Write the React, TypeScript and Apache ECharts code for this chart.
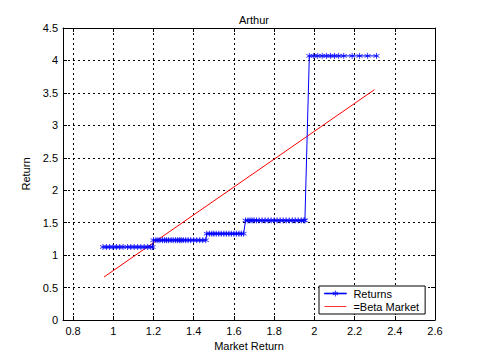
import React, { useEffect, useRef } from "react";
import * as echarts from "echarts";

const title = "Arthur";
const xName = "Market Return";
const yName = "Return";
const xTicks = [0.8, 1.0, 1.2, 1.4, 1.6, 1.8, 2.0, 2.2, 2.4, 2.6];

const seg1X = [0.949, 0.966, 0.982, 0.999, 1.016, 1.032, 1.049, 1.071, 1.087, 1.104, 1.121, 1.137, 1.154, 1.171, 1.187, 1.195];
const seg1Y = 1.125;
const seg2X = [1.2, 1.212, 1.222, 1.232, 1.245, 1.255, 1.265, 1.275, 1.288, 1.298, 1.31, 1.32, 1.33, 1.338, 1.348, 1.36, 1.372, 1.385, 1.4, 1.415, 1.43, 1.445, 1.46];
const seg2Y = 1.23;
const seg3X = [1.465, 1.478, 1.49, 1.5, 1.512, 1.525, 1.537, 1.55, 1.562, 1.575, 1.587, 1.6, 1.612, 1.625, 1.637, 1.648];
const seg3Y = 1.33;
const seg4X = [1.658, 1.67, 1.68, 1.69, 1.7, 1.712, 1.725, 1.74, 1.755, 1.77, 1.785, 1.8, 1.815, 1.83, 1.845, 1.86, 1.875, 1.89, 1.905, 1.92, 1.935, 1.948, 1.953];
const seg4Y = 1.535;
const seg5X = [1.975, 1.997, 2.017, 2.039, 2.06, 2.08, 2.1, 2.121, 2.146, 2.188, 2.225, 2.265, 2.309];
const seg5Y = 4.07;

const betaX = [0.954, 2.299];
const betaY = [0.663, 3.55];

const star = "path://M0,-5L0,5M-4.33,-2.5L4.33,2.5M-4.33,2.5L4.33,-2.5";
const starLegend = "path://M0,0L0,0M0,10L0,10M0,4.6L22,4.6L22,5.4L0,5.4ZM11,2L11,8M8.4,3.5L13.6,6.5M8.4,6.5L13.6,3.5";
const lineLegend = "path://M0,0L0,0M0,10L0,10M0,4.6L22,4.6L22,5.4L0,5.4Z";

export default function App() {
  const ref = useRef<HTMLDivElement>(null);
  useEffect(() => {
    if (!ref.current) return;
    const chart = echarts.init(ref.current, null, { renderer: "svg" });
    const segs: [number[], number][] = [
      [seg1X, seg1Y],
      [seg2X, seg2Y],
      [seg3X, seg3Y],
      [seg4X, seg4Y],
      [seg5X, seg5Y],
    ];
    const returns: number[][] = [];
    segs.forEach(([xs, y]) => xs.forEach((x) => returns.push([x, y])));
    const beta = betaX.map((x, i) => [x, betaY[i]]);
    const font = "Liberation Sans, Arial, sans-serif";
    const gridLine = { show: true, lineStyle: { color: "#000", type: [2, 3] as any, width: 1 } };
    const tickIn = { show: true, inside: true, length: 4, lineStyle: { color: "#000" } };
    chart.setOption({
      animation: false,
      backgroundColor: "#fff",
      title: {
        text: title,
        left: 249,
        textAlign: "center",
        top: 9,
        textStyle: { fontFamily: font, fontSize: 11, fontWeight: "normal", color: "#000" },
      },
      grid: { left: 63, top: 28, right: 46, bottom: 40 },
      xAxis: [
        {
          type: "value",
          min: 0.75,
          max: 2.6,
          name: xName,
          nameLocation: "middle",
          nameGap: 20,
          nameTextStyle: { fontFamily: font, fontSize: 11, color: "#000" },
          axisLine: { show: true, onZero: false, lineStyle: { color: "#000" } },
          axisTick: { ...tickIn, customValues: xTicks },
          axisLabel: {
            customValues: xTicks,
            fontFamily: font,
            fontSize: 11,
            color: "#000",
            margin: 5,
            formatter: (v: number) => String(Number(v.toFixed(1))),
          },
          splitLine: gridLine,
        },
        {
          type: "value",
          min: 0.75,
          max: 2.6,
          position: "top",
          axisLine: { show: true, onZero: false, lineStyle: { color: "#000" } },
          axisTick: { ...tickIn, customValues: xTicks },
          axisLabel: { show: false },
          splitLine: { show: false },
        },
      ],
      yAxis: [
        {
          type: "value",
          min: 0,
          max: 4.5,
          interval: 0.5,
          name: yName,
          nameLocation: "middle",
          nameGap: 26,
          nameTextStyle: { fontFamily: font, fontSize: 11, color: "#000" },
          axisLine: { show: true, onZero: false, lineStyle: { color: "#000" } },
          axisTick: tickIn,
          axisLabel: { fontFamily: font, fontSize: 11, color: "#000", margin: 5 },
          splitLine: gridLine,
        },
        {
          type: "value",
          min: 0,
          max: 4.5,
          interval: 0.5,
          position: "right",
          axisLine: { show: true, onZero: false, lineStyle: { color: "#000" } },
          axisTick: tickIn,
          axisLabel: { show: false },
          splitLine: { show: false },
        },
      ],
      legend: {
        orient: "vertical",
        left: 319,
        top: 286,
        width: 111,
        backgroundColor: "#fff",
        borderColor: "#000",
        borderWidth: 1,
        borderRadius: 0,
        padding: [2, 6, 2, 5],
        itemGap: 2,
        itemWidth: 22,
        itemHeight: 10,
        textStyle: { fontFamily: font, fontSize: 11, color: "#000", padding: [0, 0, 0, 2] },
        data: [
          { name: "Returns", icon: starLegend, itemStyle: { color: "#0000ff", borderColor: "#0000ff", borderWidth: 0.8 } },
          { name: "=Beta Market", icon: lineLegend, itemStyle: { color: "#ff0000", borderWidth: 0 } },
        ],
      },
      series: [
        {
          name: "Returns",
          type: "line",
          data: returns,
          symbol: star,
          symbolSize: 6,
          showAllSymbol: true,
          lineStyle: { color: "#0000ff", width: 1 },
          itemStyle: { color: "#0000ff", borderColor: "#0000ff", borderWidth: 0.8 },
          z: 3,
        },
        {
          name: "=Beta Market",
          type: "line",
          data: beta,
          symbol: "none",
          lineStyle: { color: "#ff0000", width: 1 },
          itemStyle: { color: "#ff0000" },
          z: 2,
        },
      ],
    });
    return () => chart.dispose();
  }, []);
  return <div ref={ref} style={{ position: "absolute", left: 0, top: 0, width: 481, height: 360 }} />;
}
